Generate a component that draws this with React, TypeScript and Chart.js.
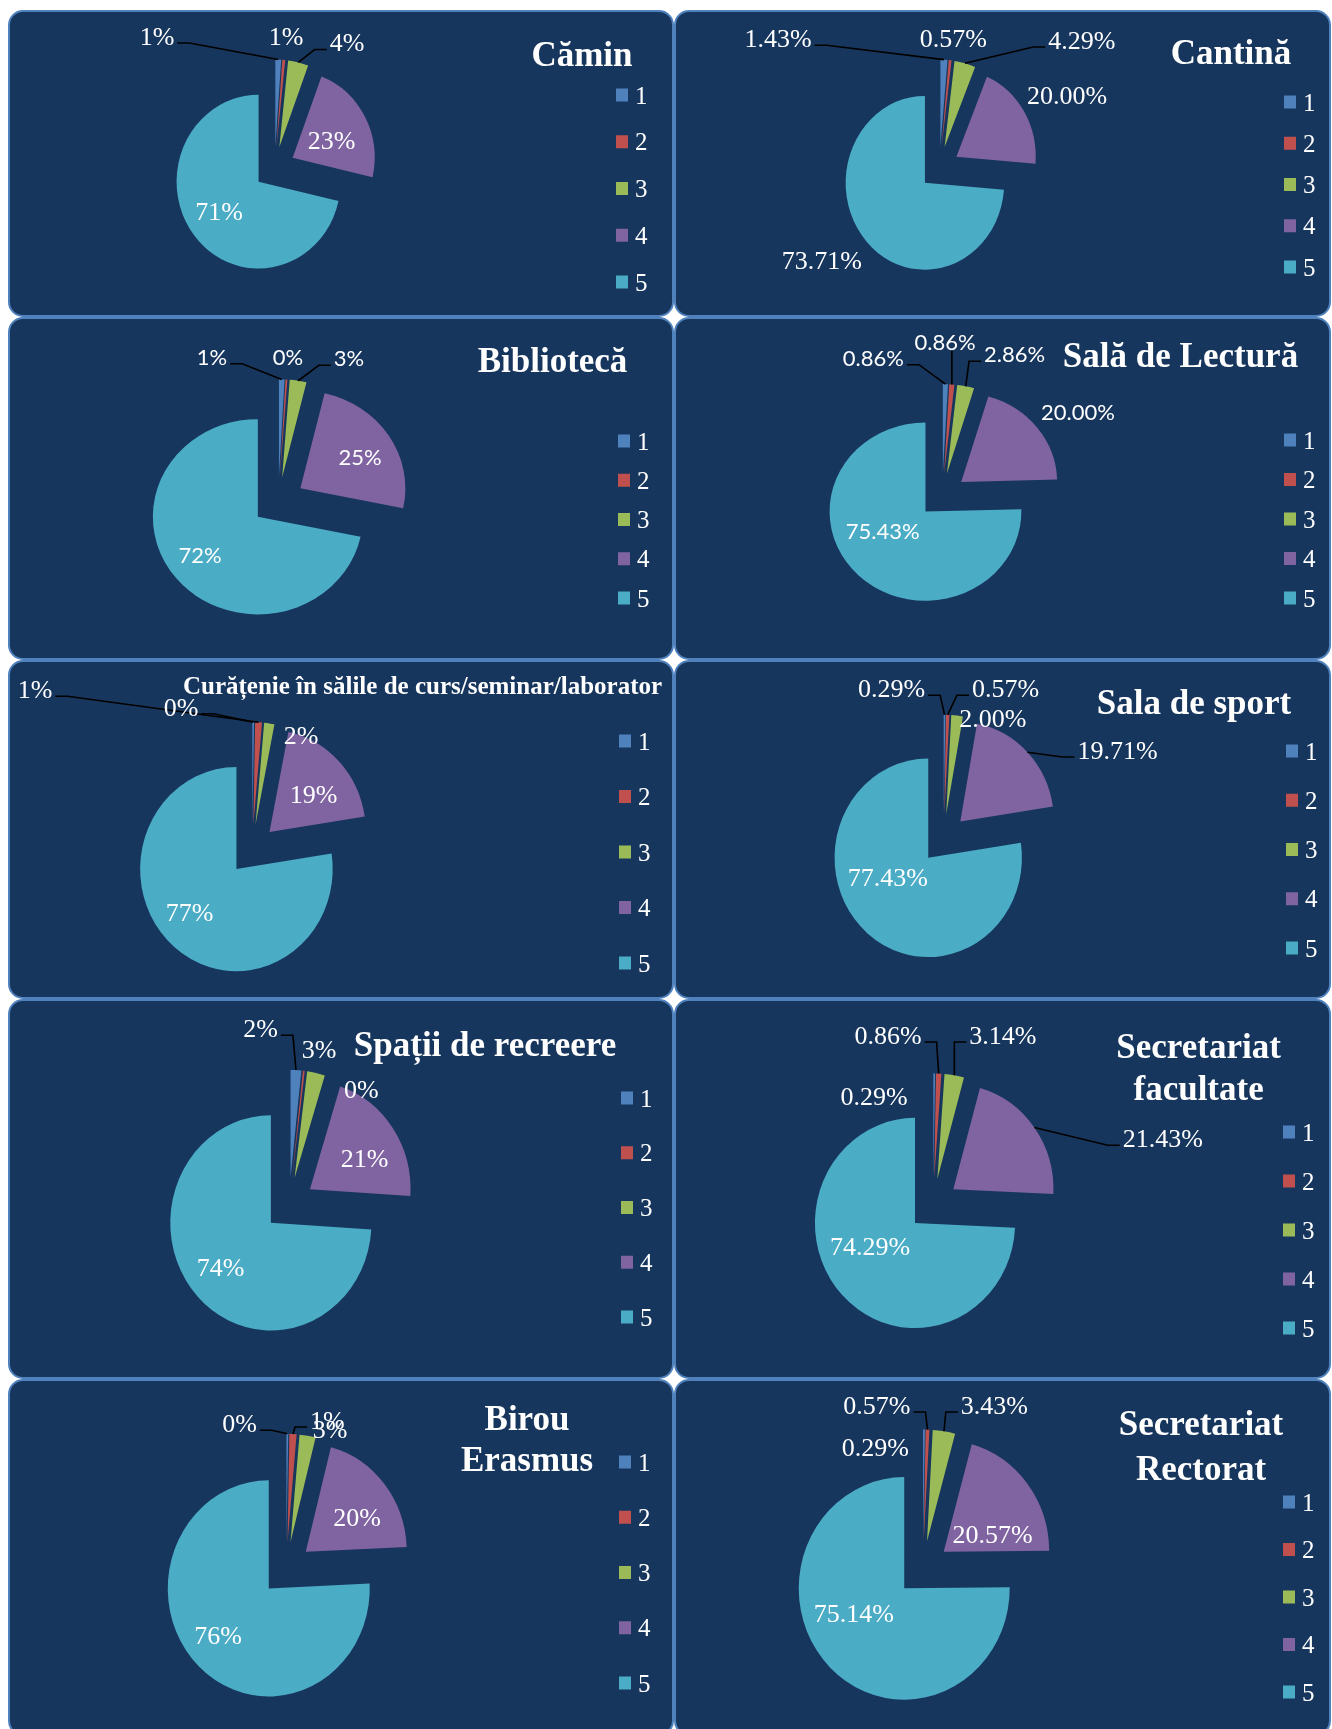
import React, { useEffect, useRef } from 'react';
import { Chart, registerables } from 'chart.js';

Chart.register(...registerables);

// ---------------- DATA (responses out of 350) ----------------
const categories = ['1', '2', '3', '4', '5'];
const caminValues = [4, 2, 14, 80, 250];
const cantinaValues = [5, 2, 15, 70, 258];
const bibliotecaValues = [3, 1, 9, 86, 251];
const lecturaValues = [3, 3, 10, 70, 264];
const curatenieValues = [1, 4, 6, 68, 271];
const sportValues = [1, 2, 7, 69, 271];
const recreereValues = [6, 1, 10, 74, 259];
const secFacultateValues = [1, 3, 11, 75, 260];
const erasmusValues = [1, 4, 9, 71, 265];
const secRectoratValues = [1, 2, 12, 72, 263];

const titles: string[][] = [
  ['Cămin'],
  ['Cantină'],
  ['Bibliotecă'],
  ['Sală de Lectură'],
  ['Curățenie în sălile de curs/seminar/laborator'],
  ['Sala de sport'],
  ['Spații de recreere'],
  ['Secretariat', 'facultate'],
  ['Birou', 'Erasmus'],
  ['Secretariat', 'Rectorat'],
];
const seriesList = [
  caminValues, cantinaValues, bibliotecaValues, lecturaValues, curatenieValues,
  sportValues, recreereValues, secFacultateValues, erasmusValues, secRectoratValues,
];
const decimalsList = [0, 2, 0, 2, 0, 2, 0, 2, 0, 2];

// ---------------- STYLE / LAYOUT ----------------
const COLORS = ['#4F81BD', '#C0504D', '#9BBB59', '#8064A2', '#4BACC6'];
const BG = '#17365D';
const COLS = [{ x: 8, w: 666 }, { x: 674, w: 657 }];
const ROWS = [{ y: 10, h: 307 }, { y: 317, h: 343 }, { y: 660, h: 339 }, { y: 999, h: 380 }, { y: 1379, h: 357 }];

type Layout = {
  cx: number; cy: number; r: number; sy: number;
  labels: [number, number, boolean][];
  titleX: number; titleBase: number[]; titleSize: number;
  legX: number; legY: number; legDy: number;
  sans: boolean;
};

const LAYOUTS: Layout[] = [
  { cx: 266.6, cy: 158.1, r: 82, sy: 1.06,
    labels: [[149, 26, true], [278, 26, false], [339, 32.5, true], [323.7, 130, false], [211, 200.7, false]],
    titleX: 574, titleBase: [56], titleSize: 35, legX: 608, legY: 85, legDy: 46.75, sans: false },
  { cx: 265.5, cy: 158.1, r: 79.3, sy: 1.095,
    labels: [[104, 28.3, true], [279.3, 28.3, false], [407.8, 30, true], [393.2, 85, false], [147.9, 250, false]],
    titleX: 557, titleBase: [54], titleSize: 35, legX: 610, legY: 92, legDy: 41.25, sans: false },
  { cx: 270.2, cy: 184.4, r: 105, sy: 0.93,
    labels: [[204, 39.7, true], [280, 39.7, false], [341, 41.3, true], [352, 139.7, false], [192, 238, false]],
    titleX: 544.5, titleBase: [54.7], titleSize: 35, legX: 610, legY: 124, legDy: 39.25, sans: true },
  { cx: 268.2, cy: 178.6, r: 95.9, sy: 0.93,
    labels: [[199.4, 40.7, true], [271, 24.7, true], [340.6, 37.3, true], [403.9, 94.7, false], [208.7, 214, false]],
    titleX: 506.5, titleBase: [50.3], titleSize: 35, legX: 610, legY: 123, legDy: 39.5, sans: true },
  { cx: 244.1, cy: 189.7, r: 96.3, sy: 1.06,
    labels: [[173, 46.7, true], [27, 29.3, true], [293, 75, false], [305.5, 134, false], [181.7, 251.7, false]],
    titleX: 414.5, titleBase: [34], titleSize: 25, legX: 611, legY: 81, legDy: 55.5, sans: false },
  { cx: 269.5, cy: 178.9, r: 93.7, sy: 1.06,
    labels: [[217.6, 28.3, true], [331.5, 28.3, true], [318.9, 58.3, false], [443.5, 90, true], [213.9, 216.7, false]],
    titleX: 520, titleBase: [54.3], titleSize: 35, legX: 612, legY: 91, legDy: 49.25, sans: false },
  { cx: 281.2, cy: 205.4, r: 100.6, sy: 1.07,
    labels: [[252.6, 29.3, true], [353.4, 90.3, false], [311, 50.3, false], [356.7, 158.7, false], [212.5, 267.7, false]],
    titleX: 477, titleBase: [56.7], titleSize: 35, legX: 613, legY: 99, legDy: 54.75, sans: false },
  { cx: 259.1, cy: 205.8, r: 100.1, sy: 1.05,
    labels: [[200.1, 97, false], [214, 36, true], [328.9, 36, true], [488.8, 139.3, true], [196.1, 247, false]],
    titleX: 524.6, titleBase: [58.7, 101], titleSize: 35, legX: 609, legY: 133, legDy: 49, sans: false },
  { cx: 278.2, cy: 189.9, r: 101, sy: 1.07,
    labels: [[231.6, 44.3, true], [319.4, 41, true], [322, 50.3, false], [349, 137.7, false], [210, 256, false]],
    titleX: 519, titleBase: [51, 91.7], titleSize: 35, legX: 611, legY: 83, legDy: 55.25, sans: false },
  { cx: 248.8, cy: 189.6, r: 105.5, sy: 1.055,
    labels: [[201.4, 67.7, false], [202.9, 26, true], [320.4, 26, true], [318.5, 155.3, false], [179.8, 234.3, false]],
    titleX: 527, titleBase: [56, 101], titleSize: 35, legX: 609, legY: 123, legDy: 47.5, sans: false },
];

const EXPLODE = 0.25; // slice explosion as a fraction of the radius

function makePlugin(idx: number) {
  const L = LAYOUTS[idx];
  return {
    id: 'excelPie' + idx,
    // draw the library's arc elements ourselves: vertical stretch + radial explosion
    beforeDatasetsDraw(chart: any) {
      const ctx = chart.ctx as CanvasRenderingContext2D;
      const meta = chart.getDatasetMeta(0);
      meta.data.forEach((el: any) => {
        const mid = (el.startAngle + el.endAngle) / 2;
        const D = EXPLODE * el.outerRadius;
        ctx.save();
        ctx.translate(el.x, el.y);
        ctx.scale(1, L.sy);
        ctx.translate(-el.x, -el.y);
        ctx.translate(Math.cos(mid) * D, Math.sin(mid) * D);
        el.draw(ctx);
        ctx.restore();
      });
      return false;
    },
    afterDraw(chart: any) {
      const ctx = chart.ctx as CanvasRenderingContext2D;
      const meta = chart.getDatasetMeta(0);
      const data = chart.data.datasets[0].data as number[];
      const total = data.reduce((s, v) => s + v, 0);
      const fs = L.sans ? 22 : 26;
      const baseOff = L.sans ? 0.36 * fs : 0.34 * fs;
      ctx.save();
      ctx.font = L.sans ? `${fs}px Lato` : `${fs}px "Liberation Serif"`;
      const texts = data.map((v) => ((v / total) * 100).toFixed(decimalsList[idx]) + '%');
      // leader lines
      meta.data.forEach((el: any, i: number) => {
        const [lx, ly, leader] = L.labels[i];
        if (!leader) return;
        const w = ctx.measureText(texts[i]).width;
        const mid = (el.startAngle + el.endAngle) / 2;
        const R = el.outerRadius * (1 + EXPLODE);
        const tx = el.x + Math.cos(mid) * R;
        const ty = el.y + Math.sin(mid) * R * L.sy;
        ctx.strokeStyle = '#000000';
        ctx.lineWidth = 1.6;
        ctx.beginPath();
        if (Math.abs(tx - lx) < w / 2 - 2) {
          const ay = ty > ly ? ly + fs * 0.42 : ly - fs * 0.42;
          ctx.moveTo(tx, ay);
          ctx.lineTo(tx, ty);
        } else {
          const dir = tx > lx ? 1 : -1;
          const ax = lx + dir * (w / 2 + 3);
          const ay = ly + 7;
          let ex = ax + dir * 12;
          if ((tx - ex) * dir < 0) ex = tx;
          ctx.moveTo(ax, ay);
          ctx.lineTo(ex, ay);
          ctx.lineTo(tx, ty);
        }
        ctx.stroke();
      });
      // label texts
      ctx.fillStyle = '#FFFFFF';
      ctx.textAlign = 'center';
      ctx.textBaseline = 'alphabetic';
      texts.forEach((t, i) => {
        const [lx, ly] = L.labels[i];
        ctx.fillText(t, lx, ly + baseOff);
      });
      // title
      ctx.font = `bold ${L.titleSize}px "Liberation Serif"`;
      titles[idx].forEach((line, k) => ctx.fillText(line, L.titleX, L.titleBase[k]));
      // legend
      ctx.textAlign = 'left';
      ctx.font = '25px "Liberation Serif"';
      (chart.data.labels as string[]).forEach((lab, i) => {
        const yc = L.legY + i * L.legDy;
        ctx.fillStyle = COLORS[i];
        ctx.fillRect(L.legX, yc - 6.5, 12, 13);
        ctx.fillStyle = '#FFFFFF';
        ctx.fillText(lab, L.legX + 19, yc + 8.5);
      });
      ctx.restore();
    },
  };
}

function Panel({ idx }: { idx: number }) {
  const ref = useRef<HTMLCanvasElement | null>(null);
  const col = COLS[idx % 2];
  const row = ROWS[Math.floor(idx / 2)];
  const W = col.w;
  const H = row.h;
  useEffect(() => {
    const L = LAYOUTS[idx];
    const canvas = ref.current!;
    const half = Math.min(L.cx, W - L.cx, L.cy, H - L.cy) - 2;
    const chart = new Chart(canvas, {
      type: 'pie',
      data: {
        labels: categories,
        datasets: [
          {
            data: seriesList[idx],
            backgroundColor: COLORS,
            borderWidth: 0,
            clip: false,
            radius: L.r,
            hoverOffset: 0,
            offset: 0,
          } as any,
        ],
      },
      options: {
        responsive: false,
        animation: false,
        devicePixelRatio: 1,
        events: [],
        radius: L.r,
        layout: {
          padding: { left: L.cx - half, right: W - L.cx - half, top: L.cy - half, bottom: H - L.cy - half },
        },
        plugins: { legend: { display: false }, tooltip: { enabled: false }, title: { display: false } },
      } as any,
      plugins: [makePlugin(idx)],
    });
    return () => chart.destroy();
  }, [idx, W, H]);
  return (
    <div style={{ position: 'absolute', left: col.x, top: row.y, width: W, height: H }}>
      <div
        style={{
          position: 'absolute', left: 0, top: 0, width: W, height: H, boxSizing: 'border-box',
          background: BG, border: '2px solid #4F81BD', borderRadius: 15,
        }}
      />
      <canvas ref={ref} width={W} height={H} style={{ position: 'absolute', left: 0, top: 0, width: W, height: H }} />
    </div>
  );
}

export default function App() {
  return (
    <div style={{ position: 'absolute', left: 0, top: 0, width: 1332, height: 1729, overflow: 'hidden', background: '#FFFFFF' }}>
      {seriesList.map((_, i) => (
        <Panel key={i} idx={i} />
      ))}
    </div>
  );
}
